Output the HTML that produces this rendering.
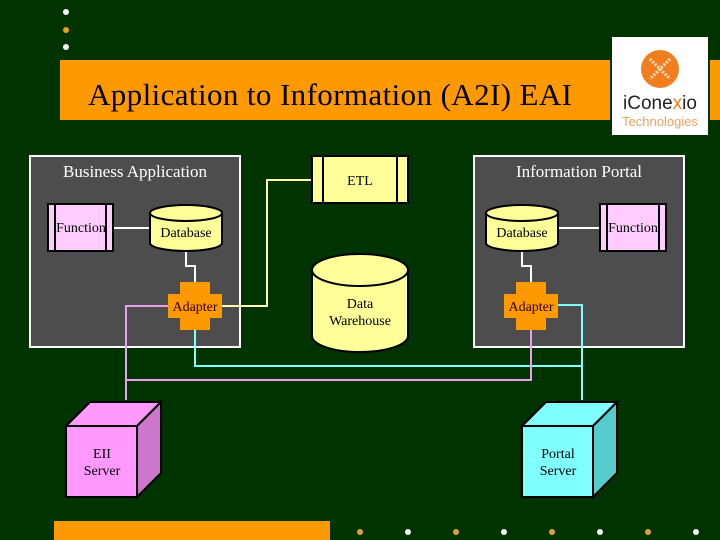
<!DOCTYPE html>
<html><head><style>
body{margin:0;background:#003300;}
svg{display:block;font-family:"Liberation Serif",serif;}
</style></head><body>
<svg width="720" height="540" viewBox="0 0 720 540">
<rect width="720" height="540" fill="#003300"/>
<circle cx="66" cy="12" r="3" fill="#fff"/>
<circle cx="66" cy="30" r="3" fill="#f39c12"/>
<circle cx="66" cy="47" r="3" fill="#fff"/>
<rect x="60" y="60" width="660" height="60" fill="#ff9900"/>
<text x="88" y="105" font-size="31" fill="#000" textLength="484">Application to Information (A2I) EAI</text>
<rect x="610" y="36" width="100" height="100" fill="#003300"/>
<rect x="612" y="37" width="96" height="98" fill="#fff"/>
<circle cx="660" cy="69" r="19" fill="#f07d1e"/>
<path d="M650 59 L670 79 M670 59 L650 79" stroke="#fde3c8" stroke-width="3" stroke-dasharray="2 1.5"/>
<text x="660" y="109" font-family="Liberation Sans,sans-serif" font-size="19" text-anchor="middle" fill="#222">iCone<tspan fill="#f07d1e">x</tspan>io</text>
<text x="660" y="126" font-family="Liberation Sans,sans-serif" font-size="13" text-anchor="middle" fill="#f0a060">Technologies</text>

<rect x="30" y="156" width="210" height="191" fill="#4d4d4d" stroke="#fff" stroke-width="2"/>
<text x="135" y="177" font-size="17" fill="#fff" text-anchor="middle">Business Application</text>
<rect x="474" y="156" width="210" height="191" fill="#4d4d4d" stroke="#fff" stroke-width="2"/>
<text x="579" y="177" font-size="17" fill="#fff" text-anchor="middle">Information Portal</text>

<g fill="none" stroke-width="2">
<path d="M114 228 H150 M558 228 H600" stroke="#fff"/>
<path d="M186 252 V266 H195 V282 M522 252 V266 H531 V282" stroke="#fff"/>
<path d="M222 306 H267 V180 H312" stroke="#ffffaa"/>
<path d="M195 330 V366 H582 M558 305 H582 V400" stroke="#80ffff"/>
<path d="M168 306 H126 V400 M126 380 H531 V330" stroke="#e8a0e8"/>
</g>

<g stroke="#000" stroke-width="2">
<rect x="48" y="204" width="65" height="47" fill="#ffccff"/>
<line x1="55" y1="204" x2="55" y2="251"/><line x1="106" y1="204" x2="106" y2="251"/>
<rect x="600" y="204" width="66" height="47" fill="#ffccff"/>
<line x1="607" y1="204" x2="607" y2="251"/><line x1="659" y1="204" x2="659" y2="251"/>
<rect x="312" y="156" width="96" height="47" fill="#ffff99"/>
<line x1="323" y1="156" x2="323" y2="203"/><line x1="397" y1="156" x2="397" y2="203"/>
</g>
<text x="81" y="232" font-size="14" text-anchor="middle">Function</text>
<text x="633" y="232" font-size="14" text-anchor="middle">Function</text>
<text x="360" y="185" font-size="14" text-anchor="middle">ETL</text>

<g stroke="#000" stroke-width="2" fill="#ffff99">
<path d="M150 213 V243 A36 8 0 0 0 222 243 V213"/><ellipse cx="186" cy="213" rx="36" ry="8"/>
<path d="M486 213 V243 A36 8 0 0 0 558 243 V213"/><ellipse cx="522" cy="213" rx="36" ry="8"/>
<path d="M312 270 V336 A48 16 0 0 0 408 336 V270"/><ellipse cx="360" cy="270" rx="48" ry="16"/>
</g>
<text x="186" y="237" font-size="14" text-anchor="middle">Database</text>
<text x="522" y="237" font-size="14" text-anchor="middle">Database</text>
<text x="360" y="308" font-size="14" text-anchor="middle">Data</text>
<text x="360" y="325" font-size="14" text-anchor="middle">Warehouse</text>

<g fill="#ff9900">
<path d="M180 282 H210 V294 H222 V318 H210 V330 H180 V318 H168 V294 H180Z"/>
<path d="M516 282 H546 V294 H558 V318 H546 V330 H516 V318 H504 V294 H516Z"/>
</g>
<text x="195" y="311" font-size="14" text-anchor="middle" fill="#330000">Adapter</text>
<text x="531" y="311" font-size="14" text-anchor="middle" fill="#330000">Adapter</text>

<g stroke="#000" stroke-width="2">
<rect x="66" y="426" width="71" height="71" fill="#ff99ff"/>
<path d="M66 426 L90 402 H161 L137 426Z" fill="#ff99ff"/>
<path d="M137 426 L161 402 V473 L137 497Z" fill="#cc77cc"/>
<rect x="522" y="426" width="71" height="71" fill="#80ffff"/>
<path d="M522 426 L546 402 H617 L593 426Z" fill="#80ffff"/>
<path d="M593 426 L617 402 V473 L593 497Z" fill="#55cccc"/>
</g>
<text x="102" y="458" font-size="14" text-anchor="middle">EII</text>
<text x="102" y="475" font-size="14" text-anchor="middle">Server</text>
<text x="558" y="458" font-size="14" text-anchor="middle">Portal</text>
<text x="558" y="475" font-size="14" text-anchor="middle">Server</text>

<rect x="54" y="521" width="276" height="19" fill="#ff9900"/>
<g>
<circle cx="360" cy="532" r="3" fill="#e0a030"/><circle cx="408" cy="532" r="3" fill="#fff"/>
<circle cx="456" cy="532" r="3" fill="#e0a030"/><circle cx="504" cy="532" r="3" fill="#fff"/>
<circle cx="552" cy="532" r="3" fill="#e0a030"/><circle cx="600" cy="532" r="3" fill="#fff"/>
<circle cx="648" cy="532" r="3" fill="#e0a030"/><circle cx="696" cy="532" r="3" fill="#fff"/>
</g>
</svg>
</body></html>
